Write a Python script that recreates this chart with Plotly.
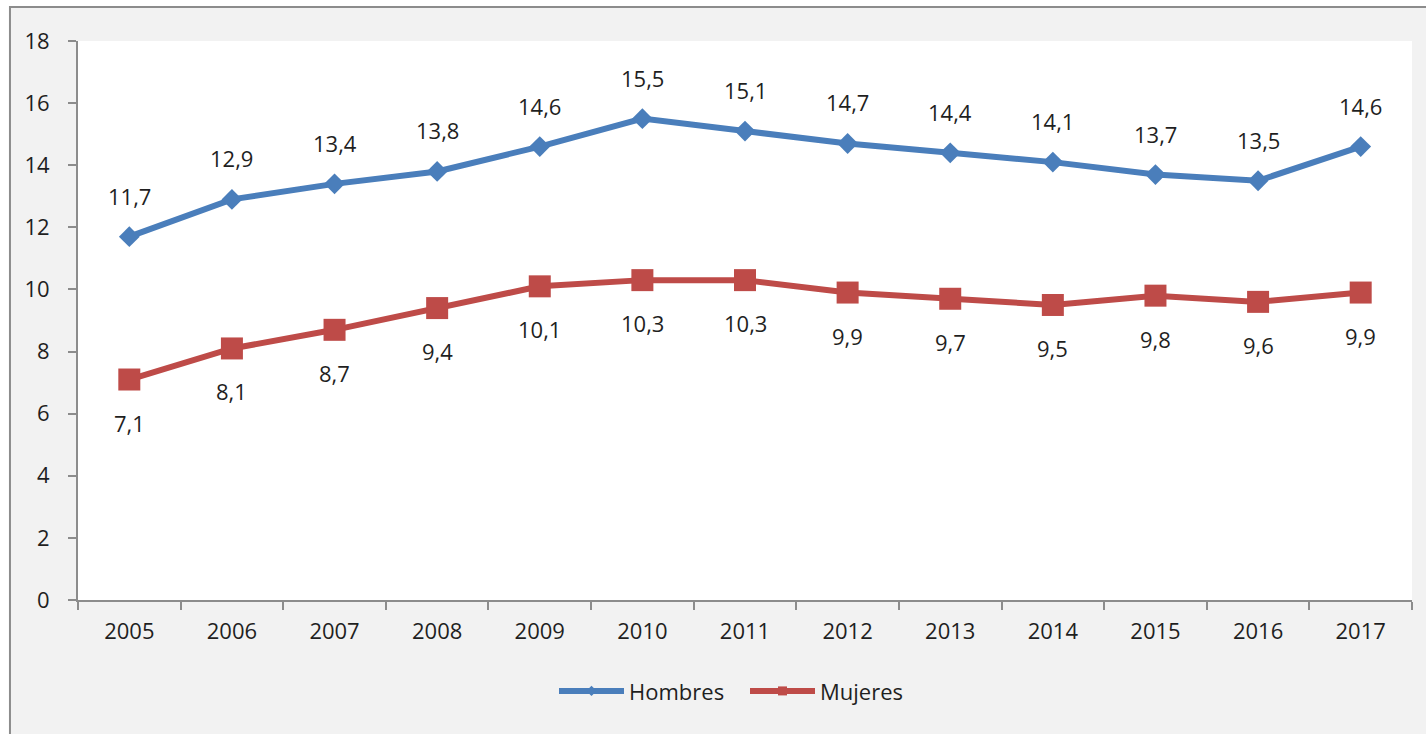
import plotly.graph_objects as go

years = ["2005", "2006", "2007", "2008", "2009", "2010", "2011",
         "2012", "2013", "2014", "2015", "2016", "2017"]
hombres = [11.7, 12.9, 13.4, 13.8, 14.6, 15.5, 15.1, 14.7, 14.4, 14.1, 13.7, 13.5, 14.6]
mujeres = [7.1, 8.1, 8.7, 9.4, 10.1, 10.3, 10.3, 9.9, 9.7, 9.5, 9.8, 9.6, 9.9]

BLUE = "#4a7ebb"
RED = "#be4b48"
FONT = "Open Sans"
TXT = "#1f1f1f"
AXIS = "#8c8c8c"
FS = 22


def fmt(v):
    # comma decimal separator, as in the original
    return f"{v:.1f}".replace(".", ",")


fig = go.Figure()
fig.add_trace(
    go.Scatter(
        x=years, y=hombres, name="Hombres", showlegend=False,
        mode="lines+markers",
        line={"color": BLUE, "width": 6},
        marker={"symbol": "diamond", "size": 16, "color": BLUE},
    )
)
fig.add_trace(
    go.Scatter(
        x=years, y=mujeres, name="Mujeres", showlegend=False,
        mode="lines+markers",
        line={"color": RED, "width": 6},
        marker={"symbol": "square", "size": 22, "color": RED},
    )
)
# legend entries with the small Excel-style symbols
fig.add_trace(go.Scatter(x=[None], y=[None], name="Hombres", mode="lines+markers",
                         line={"color": BLUE, "width": 6},
                         marker={"symbol": "diamond", "size": 8, "color": BLUE}))
fig.add_trace(go.Scatter(x=[None], y=[None], name="Mujeres", mode="lines+markers",
                         line={"color": RED, "width": 6},
                         marker={"symbol": "square", "size": 9, "color": RED}))

# data labels: above for Hombres, below for Mujeres
for i, v in enumerate(hombres):
    fig.add_annotation(x=i, y=v, text=fmt(v), showarrow=False, yshift=41,
                       font={"size": FS, "color": TXT, "family": FONT})
for i, v in enumerate(mujeres):
    fig.add_annotation(x=i, y=v, text=fmt(v), showarrow=False, yshift=-43,
                       font={"size": FS, "color": TXT, "family": FONT})

# chart frame (gray panel) and white plot area
fig.add_shape(type="rect", xref="paper", yref="paper",
              x0=-0.051, x1=1.2, y0=-0.5, y1=1.0608,
              fillcolor="#f2f2f2", line={"color": AXIS, "width": 2},
              layer="below")
fig.add_shape(type="rect", xref="paper", yref="paper",
              x0=0, x1=1, y0=0, y1=1,
              fillcolor="white", line={"width": 0}, layer="below")

fig.update_layout(
    width=1426, height=734,
    paper_bgcolor="white",
    plot_bgcolor="rgba(0,0,0,0)",
    margin={"l": 78, "r": 14, "t": 41, "b": 134},
    font={"family": FONT, "size": FS, "color": TXT},
    showlegend=True,
    legend={"orientation": "h", "x": 0.5, "xanchor": "center",
            "y": -0.163, "yanchor": "middle",
            "font": {"size": FS, "color": TXT}, "bgcolor": "rgba(0,0,0,0)",
            "itemwidth": 65, "entrywidth": 111},
    xaxis={
        "type": "category", "range": [-0.5, 12.5],
        "showgrid": False, "zeroline": False,
        "showline": True, "linecolor": AXIS, "linewidth": 2,
        "ticks": "outside", "tickson": "boundaries", "ticklen": 8,
        "tickcolor": AXIS, "tickwidth": 1.5,
        "tickfont": {"size": FS, "color": TXT}, "ticklabelstandoff": 11,
        "fixedrange": True,
    },
    yaxis={
        "range": [0, 18], "dtick": 2,
        "showgrid": False, "zeroline": False,
        "showline": True, "linecolor": AXIS, "linewidth": 2,
        "ticks": "outside", "ticklen": 8,
        "tickcolor": AXIS, "tickwidth": 1.5,
        "tickfont": {"size": FS, "color": TXT}, "ticklabelstandoff": 14,
        "fixedrange": True,
    },
)

fig.write_html("out.html", config={"displayModeBar": False},
               post_script="document.body.style.margin='0';")
